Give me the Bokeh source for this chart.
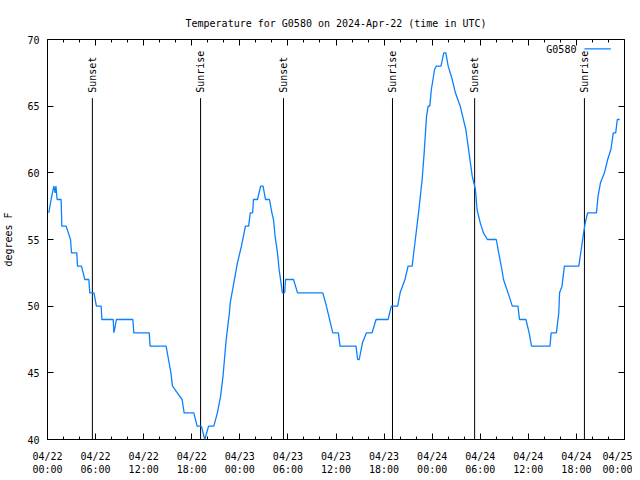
from bokeh.plotting import figure
from bokeh.models import FixedTicker, LinearAxis, Range1d, Label
from bokeh.core.properties import value
from bokeh.embed import file_html
from bokeh.resources import INLINE

# Hours since 2024-04-22 00:00 UTC and temperature (deg F)
hours = [0.16, 0.45, 0.79, 0.95, 1.05, 1.2, 1.7, 1.79, 2.33, 2.6, 2.87, 3.0, 3.66, 3.74, 4.24,
         4.45, 4.66, 5.16, 5.28, 5.8, 6.1, 6.7, 6.78, 8.2, 8.28, 8.45, 8.6, 10.65, 10.77, 12.69,
         12.8, 14.8, 15.1, 15.4, 15.6, 16.2, 16.8, 17.05, 18.26, 18.67, 19.2, 19.63, 20.1, 20.75,
         21.2, 21.6, 21.9, 22.3, 22.5, 22.7, 22.8, 23.25, 23.7, 24.2, 24.7, 25.1, 25.3, 25.6,
         25.7, 26.2, 26.6, 26.9, 27.2, 27.7, 28.0, 28.2, 28.4, 28.7, 28.9, 29.2, 29.3, 29.6,
         29.7, 30.7, 31.2, 34.35, 34.7, 35.1, 35.6, 36.3, 36.5, 38.5, 38.7, 38.9, 39.3, 39.8,
         40.5, 41.0, 42.5, 42.9, 43.7, 44.0, 44.6, 45.0, 45.5, 45.9, 46.3, 46.75, 47.0, 47.3,
         47.5, 47.7, 47.9, 48.3, 48.5, 49.1, 49.45, 49.7, 50.0, 50.5, 50.9, 51.5, 52.2, 52.6,
         53.0, 53.4, 53.6, 54.0, 54.4, 54.9, 56.0, 56.3, 56.7, 56.9, 57.6, 58.0, 58.7, 58.9,
         59.7, 60.1, 60.4, 62.7, 62.85, 63.5, 63.8, 63.9, 64.2, 64.5, 66.3, 66.6, 66.9, 67.1,
         67.4, 68.5, 68.7, 69.0, 69.5, 69.9, 70.3, 70.6, 70.9, 71.1, 71.4]
temps = [57, 58, 59, 58.5, 59, 58, 58, 56, 56, 55.5, 55, 54, 54, 53, 53,
         52.5, 52, 52, 51, 51, 50, 50, 49, 49, 48, 48.5, 49, 49, 48, 48,
         47, 47, 46, 45, 44, 43.5, 43, 42, 42, 41, 41, 40, 41, 41,
         42, 43.25, 44.75, 47.5, 48.5, 49.5, 50.25, 51.75, 53.25, 54.5, 56, 56, 57, 57,
         58, 58, 59, 59, 58, 58, 57, 56.5, 55.25, 54, 52.75, 51.5, 51, 51,
         52, 52, 51, 51, 50.25, 49.25, 48, 48, 47, 47, 46, 46, 47.25, 48,
         48, 49, 49, 50, 50, 51, 52, 53, 53, 55, 57, 59.5, 61.5, 64.25,
         65, 65, 66.25, 67.75, 68, 68, 69, 69, 68, 67, 66, 65, 63.25, 61.5,
         59.75, 58.75, 57.25, 56.25, 55.5, 55, 55, 54, 52.75, 52, 50.75, 50, 50, 49,
         49, 48, 47, 47, 48, 48, 49.5, 51, 51.5, 53, 53, 54.25, 55.5, 56.25,
         57, 57, 58.25, 59.25, 60, 61, 61.75, 63, 63, 64, 64]

sunset_hours = [5.6, 29.45, 53.3]
sunrise_hours = [19.1, 43.05, 67.0]

x_tick_hours = [0, 6, 12, 18, 24, 30, 36, 42, 48, 54, 60, 66, 72]
x_tick_labels = ["04/22\n00:00", "04/22\n06:00", "04/22\n12:00", "04/22\n18:00",
                 "04/23\n00:00", "04/23\n06:00", "04/23\n12:00", "04/23\n18:00",
                 "04/24\n00:00", "04/24\n06:00", "04/24\n12:00", "04/24\n18:00",
                 "04/25\n00:00"]
y_ticks = [40, 45, 50, 55, 60, 65, 70]

FONT = "DejaVu Sans Mono"
FS = "10px"
LINE_COLOR = "#0a80ff"

p = figure(frame_width=577, frame_height=400,
           x_range=Range1d(0, 72), y_range=Range1d(40, 70),
           output_backend="svg", toolbar_location=None,
           min_border_left=34, min_border_right=8, min_border_top=39, min_border_bottom=30,
           x_axis_type=None, y_axis_type=None)
p.background_fill_color = "white"
p.border_fill_color = "white"
p.outline_line_color = "black"
p.outline_line_width = 1
p.xgrid.visible = False
p.ygrid.visible = False

p.title.text = "Temperature for G0580 on 2024-Apr-22 (time in UTC)"
p.title.align = "center"
p.title.text_font = FONT
p.title.text_font_size = FS
p.title.text_font_style = "normal"
p.title.text_color = "black"
p.title.standoff = 21

minor_x = [h for h in range(0, 73, 2) if h % 6 != 0]
xt = FixedTicker(ticks=x_tick_hours, minor_ticks=minor_x)
yt = FixedTicker(ticks=y_ticks)

def style_axis(ax, labels=True):
    ax.major_tick_in = 6
    ax.major_tick_out = 0
    ax.minor_tick_in = 3
    ax.minor_tick_out = 0
    ax.major_tick_line_color = "black"
    ax.minor_tick_line_color = "black"
    ax.axis_line_color = None
    ax.major_label_text_font = FONT
    ax.major_label_text_font_size = FS if labels else "0px"
    ax.major_label_text_color = "black"

xb = LinearAxis(ticker=xt)
style_axis(xb)
xb.major_label_overrides = {t: l for t, l in zip(x_tick_hours, x_tick_labels)}
xb.major_label_standoff = 11
p.add_layout(xb, "below")

xa = LinearAxis(ticker=xt)
style_axis(xa, labels=False)
xa.major_label_overrides = {t: "" for t in x_tick_hours}
xa.major_label_standoff = 0
p.add_layout(xa, "above")

yl = LinearAxis(ticker=yt, axis_label="degrees F")
style_axis(yl)
yl.minor_tick_in = 0
yl.major_label_standoff = 8
yl.axis_label_text_font = FONT
yl.axis_label_text_font_size = FS
yl.axis_label_text_font_style = "normal"
yl.axis_label_text_color = "black"
yl.axis_label_standoff = 10
p.add_layout(yl, "left")

yr = LinearAxis(ticker=yt)
style_axis(yr, labels=False)
yr.minor_tick_in = 0
yr.major_label_overrides = {t: "" for t in y_ticks}
yr.major_label_standoff = 0
p.add_layout(yr, "right")

# Sunset / sunrise markers
line_top = 65.6
label_y = 66.0
for hrs, name in ((sunset_hours, "Sunset"), (sunrise_hours, "Sunrise")):
    p.segment(x0=hrs, y0=[40] * len(hrs), x1=hrs, y1=[line_top] * len(hrs),
              line_color="black", line_width=1)
    p.text(x=hrs, y=[label_y] * len(hrs), text=[name] * len(hrs), angle=1.5708,
           text_align="left", text_baseline="middle", text_font=value(FONT),
           text_font_size=FS, text_color="black")

# Temperature line
p.line(hours, temps, line_color=LINE_COLOR, line_width=1.3)

# Legend (gnuplot style: text then sample)
p.add_layout(Label(x=66.0, y=69.25, text="G0580", text_align="right", text_baseline="middle",
                   text_font=FONT, text_font_size=FS, text_color="black"))
p.segment(x0=[67.0], y0=[69.3], x1=[70.3], y1=[69.3], line_color=LINE_COLOR, line_width=1.3)

open("out.html", "w").write(file_html(p, INLINE))
